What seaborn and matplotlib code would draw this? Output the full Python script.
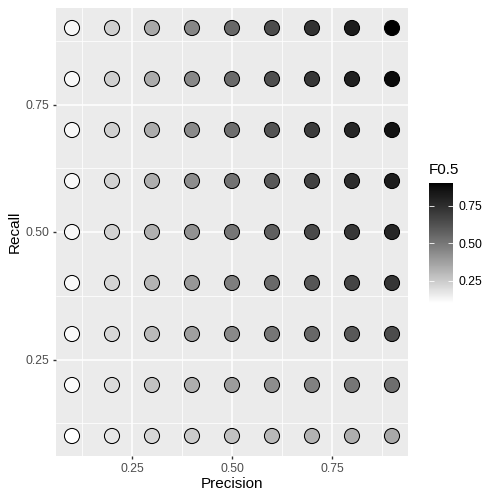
import numpy as np
import pandas as pd
import matplotlib
matplotlib.use("Agg")
import matplotlib.pyplot as plt
from matplotlib.colors import ListedColormap, Normalize
from matplotlib.cm import ScalarMappable
import seaborn as sns

# --- data: lưới Precision x Recall, giá trị F0.5 cho từng ô ---
precision = [0.1, 0.2, 0.3, 0.4, 0.5, 0.6, 0.7, 0.8, 0.9]
recall = [0.1, 0.2, 0.3, 0.4, 0.5, 0.6, 0.7, 0.8, 0.9]
# mỗi hàng là một mức recall (0.1 -> 0.9), mỗi cột là một mức precision
f05 = [
    [0.100, 0.167, 0.214, 0.250, 0.278, 0.300, 0.318, 0.333, 0.346],
    [0.111, 0.200, 0.273, 0.333, 0.385, 0.429, 0.467, 0.500, 0.529],
    [0.115, 0.214, 0.300, 0.375, 0.441, 0.500, 0.553, 0.600, 0.643],
    [0.118, 0.222, 0.316, 0.400, 0.476, 0.545, 0.609, 0.667, 0.720],
    [0.119, 0.227, 0.326, 0.417, 0.500, 0.577, 0.648, 0.714, 0.776],
    [0.120, 0.231, 0.333, 0.429, 0.517, 0.600, 0.677, 0.750, 0.818],
    [0.121, 0.233, 0.339, 0.438, 0.530, 0.618, 0.700, 0.778, 0.851],
    [0.121, 0.235, 0.343, 0.444, 0.541, 0.632, 0.718, 0.800, 0.878],
    [0.122, 0.237, 0.346, 0.450, 0.549, 0.643, 0.733, 0.818, 0.900],
]
cbar_ticks = [0.25, 0.50, 0.75]

rows = []
for i, r in enumerate(recall):
    for j, p in enumerate(precision):
        rows.append({"Precision": p, "Recall": r, "F0.5": f05[i][j]})
df = pd.DataFrame(rows)

# thang màu trắng -> đen nội suy theo L* (giống scale_fill_gradient của ggplot)
L = np.linspace(100, 0, 256)
Y = np.where(L > 8, ((L + 16) / 116) ** 3, L / 903.3)
g = np.where(Y <= 0.0031308, 12.92 * Y, 1.055 * Y ** (1 / 2.4) - 0.055)
cmap = ListedColormap(np.stack([g, g, g], axis=1))
norm = Normalize(vmin=0.1, vmax=0.9)

sns.set_theme(style="darkgrid")
plt.rcParams["font.family"] = ["Liberation Sans", "DejaVu Sans"]

fig = plt.figure(figsize=(5, 5), dpi=100)
ax = fig.add_axes([0.112, 0.0872, 0.704, 0.8976])
ax.set_facecolor("#EBEBEB")

sns.scatterplot(data=df, x="Precision", y="Recall", hue="F0.5", palette=cmap,
                hue_norm=norm, s=118, edgecolor="black", linewidth=0.75,
                legend=False, ax=ax, zorder=3)

ax.set_xlim(0.06, 0.94)
ax.set_ylim(0.06, 0.94)
ax.set_xticks([0.25, 0.50, 0.75])
ax.set_yticks([0.25, 0.50, 0.75])
ax.set_xticklabels(["0.25", "0.50", "0.75"])
ax.set_yticklabels(["0.25", "0.50", "0.75"])
ax.set_xticks([0.125, 0.375, 0.625, 0.875], minor=True)
ax.set_yticks([0.125, 0.375, 0.625, 0.875], minor=True)
ax.grid(which="major", color="white", linewidth=1.1)
ax.grid(which="minor", color="white", linewidth=0.55)
ax.tick_params(which="major", length=2.5, width=1.0, color="#333333",
               labelsize=8.8, labelcolor="#4D4D4D", pad=2,
               bottom=True, left=True)
ax.tick_params(which="minor", length=0, bottom=False, left=False)
for sp in ax.spines.values():
    sp.set_visible(False)
ax.set_xlabel("Precision", fontsize=11, color="black", labelpad=2)
ax.set_ylabel("Recall", fontsize=11, color="black", labelpad=3)

# thanh màu
cax = fig.add_axes([429 / 500, 1 - 303 / 500, 24 / 500, 120 / 500])
cb = fig.colorbar(ScalarMappable(norm=norm, cmap=cmap), cax=cax)
cb.outline.set_visible(False)
cb.set_ticks(cbar_ticks)
cb.set_ticklabels(["0.25", "0.50", "0.75"])
cax.tick_params(length=0, labelsize=8.8, labelcolor="black", pad=4)
for t in cbar_ticks:
    cax.hlines(t, 0, 0.2, color="white", linewidth=0.6)
    cax.hlines(t, 0.8, 1, color="white", linewidth=0.6)
fig.text(429 / 500, 1 - 170 / 500, "F0.5", fontsize=11, color="black",
         ha="left", va="center")

fig.savefig("out.png", dpi=100)
